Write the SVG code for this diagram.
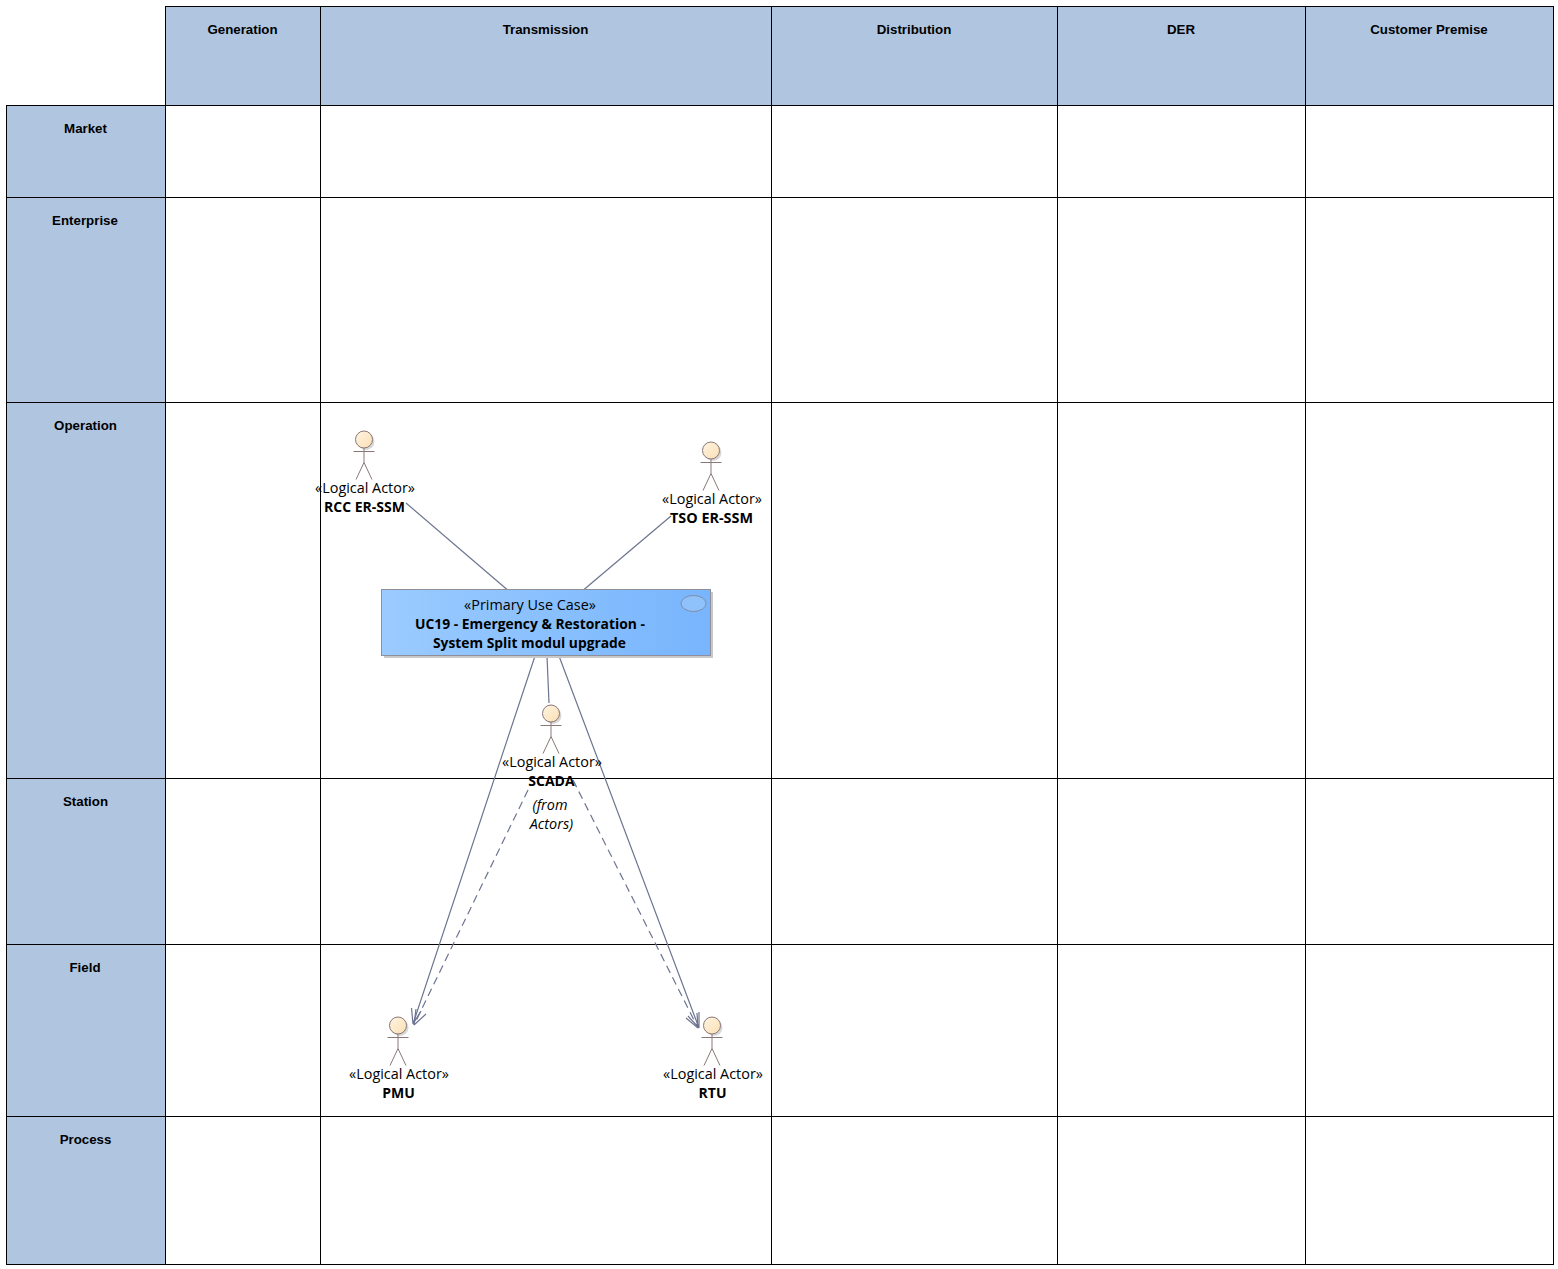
<svg xmlns="http://www.w3.org/2000/svg" width="1558" height="1269" viewBox="0 0 1558 1269">
<style>
.hd{fill:#b0c6e0;stroke:#000;stroke-width:1}
.ce{fill:#fff;stroke:#000;stroke-width:1}
.hl{font:bold 13.300px "Liberation Sans",Arial,sans-serif;fill:#000;text-anchor:middle}
.st{font:14.400px "Open Sans","Noto Sans",sans-serif;fill:#000;text-anchor:middle}
.nm{font:bold 14px "Open Sans","Noto Sans",sans-serif;fill:#000;text-anchor:middle}
.it{font:italic 14.400px "Open Sans","Noto Sans",sans-serif;fill:#000;text-anchor:middle}
.lim{fill:none;stroke:#8a7878;stroke-width:1}
.head{fill:url(#hg);stroke:#8a7878;stroke-width:1}
.shad{fill:#c8c8c8;opacity:.7}
.c{fill:none;stroke:#6c7490;stroke-width:1.200}
.d{stroke-dasharray:8 5}
</style>
<defs>
<linearGradient id="hg" x1="0" y1="0" x2="1" y2="1"><stop offset="0" stop-color="#fff4e2"/><stop offset="1" stop-color="#fbdfb4"/></linearGradient>
<linearGradient id="uc" x1="0" y1="0" x2="1" y2="0"><stop offset="0" stop-color="#9bcbff"/><stop offset="1" stop-color="#78b5fd"/></linearGradient>
<g id="actor">
<circle class="shad" cx="2" cy="2" r="8.500"/>
<circle class="head" r="8.500"/>
<path class="lim" d="M-10.500 12H10.500M0 8.500V23M0 23L-8 40M0 23L8 40"/>
</g>
</defs>
<g id="grid">
<rect class="hd" x="165.500" y="6.500" width="155" height="99"/>
<rect class="hd" x="320.500" y="6.500" width="451" height="99"/>
<rect class="hd" x="771.500" y="6.500" width="286" height="99"/>
<rect class="hd" x="1057.500" y="6.500" width="248" height="99"/>
<rect class="hd" x="1305.500" y="6.500" width="248" height="99"/>
<rect class="hd" x="6.500" y="105.500" width="159" height="92"/>
<rect class="hd" x="6.500" y="197.500" width="159" height="205"/>
<rect class="hd" x="6.500" y="402.500" width="159" height="376"/>
<rect class="hd" x="6.500" y="778.500" width="159" height="166"/>
<rect class="hd" x="6.500" y="944.500" width="159" height="172"/>
<rect class="hd" x="6.500" y="1116.500" width="159" height="148"/>
<rect class="ce" x="165.500" y="105.500" width="1388" height="1159"/>
<path fill="none" stroke="#000" d="M320.500 105.500V1264.500M771.500 105.500V1264.500M1057.500 105.500V1264.500M1305.500 105.500V1264.500M165.500 197.500H1553.500M165.500 402.500H1553.500M165.500 778.500H1553.500M165.500 944.500H1553.500M165.500 1116.500H1553.500"/>
<text class="hl" x="242.500" y="34">Generation</text>
<text class="hl" x="545.500" y="34">Transmission</text>
<text class="hl" x="914" y="34">Distribution</text>
<text class="hl" x="1181" y="34">DER</text>
<text class="hl" x="1429" y="34">Customer Premise</text>
<text class="hl" x="85.500" y="133">Market</text>
<text class="hl" x="85" y="225">Enterprise</text>
<text class="hl" x="85.500" y="430">Operation</text>
<text class="hl" x="85.500" y="806">Station</text>
<text class="hl" x="85" y="972">Field</text>
<text class="hl" x="85.500" y="1144">Process</text>
</g>
<g id="connectors">
<path class="c" d="M406 503L507 589.500"/>
<path class="c" d="M671 516L584 589.500"/>
<path class="c" d="M547 656L549 703"/>
<path class="c" d="M535 656L413 1024M413 1024L411.500 1008M413 1024L421 1011"/>
<path class="c" d="M559 656L699 1028M699 1028L699 1012M699 1028L688 1016"/>
<path class="c d" d="M528 790L414 1025"/>
<path class="c" d="M414 1025L416 1009M414 1025L426 1014"/>
<path class="c d" d="M573 780L698 1028"/>
<path class="c" d="M698 1028L697 1013M698 1028L686 1018"/>
</g>
<g id="uc19">
<rect x="384" y="592" width="329" height="66" fill="#c9c9c9"/>
<rect x="381.500" y="589.500" width="329" height="66" fill="url(#uc)" stroke="#8f8f9c"/>
<ellipse cx="693.500" cy="603.500" rx="12.500" ry="8" fill="#8fc1fa" stroke="#7f8ea5"/>
<text class="st" x="530" y="610">«Primary Use Case»</text>
<text class="nm" x="530" y="629" textLength="230" lengthAdjust="spacingAndGlyphs">UC19 - Emergency &amp; Restoration -</text>
<text class="nm" x="529.500" y="648" textLength="193" lengthAdjust="spacingAndGlyphs">System Split modul upgrade</text>
</g>
<g id="rcc">
<use href="#actor" x="364" y="439.500"/>
<text class="st" x="365" y="493">«Logical Actor»</text>
<text class="nm" x="364.500" y="512">RCC ER-SSM</text>
</g>
<g id="tso">
<use href="#actor" x="711" y="450.500"/>
<text class="st" x="712" y="504">«Logical Actor»</text>
<text class="nm" x="711.500" y="523" textLength="83" lengthAdjust="spacingAndGlyphs">TSO ER-SSM</text>
</g>
<g id="scada">
<use href="#actor" x="551" y="713.500"/>
<text class="st" x="552" y="767">«Logical Actor»</text>
<text class="nm" x="551.500" y="786">SCADA</text>
<text class="it" x="550" y="810">(from</text>
<text class="it" x="551.500" y="829">Actors)</text>
</g>
<g id="pmu">
<use href="#actor" x="398" y="1025.500"/>
<text class="st" x="399" y="1079">«Logical Actor»</text>
<text class="nm" x="398.500" y="1098">PMU</text>
</g>
<g id="rtu">
<use href="#actor" x="712" y="1025.500"/>
<text class="st" x="713" y="1079">«Logical Actor»</text>
<text class="nm" x="712.500" y="1098">RTU</text>
</g>
</svg>
